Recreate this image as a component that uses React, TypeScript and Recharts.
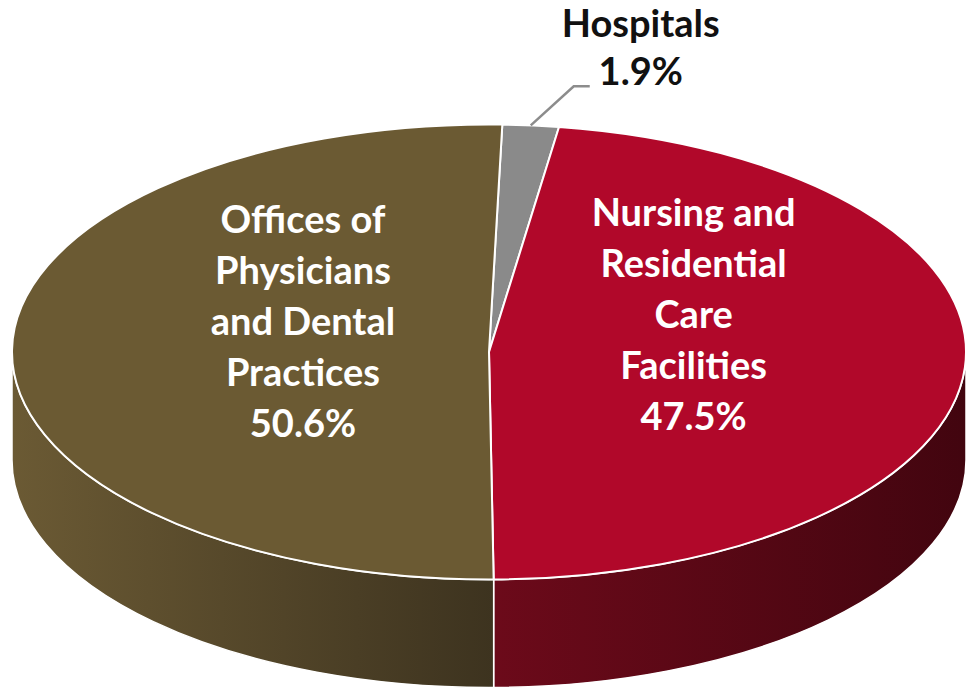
import React from 'react';
import { PieChart, Pie, Cell } from 'recharts';

// values (% share)
const categories = [
  'Hospitals',
  'Nursing and Residential Care Facilities',
  'Offices of Physicians and Dental Practices',
];
const shares = [1.9, 47.5, 50.6];
// how each category label is wrapped on the chart
const labelLines = [
  ['Hospitals'],
  ['Nursing and', 'Residential', 'Care', 'Facilities'],
  ['Offices of', 'Physicians', 'and Dental', 'Practices'],
];

const topColors = ['#8a8a8a', '#b1082a', '#6b5a33'];
const wallColors = [
  ['#6a6a6a', '#4a4a4a'],
  ['#6c0a1a', '#42050f'],
  ['#6b5a34', '#3d331f'],
];
// label placement per slice: fraction of radius, and lift
const labelRadius = [1, 0.43, 0.39];
const labelLift = [0, 31, 16];

const TILT = 0.477; // vertical squash of the pie top
const DEPTH = 108; // thickness of the pie
const RAD = Math.PI / 180;
const FONT = 'Lato, "Open Sans", sans-serif';
const FONT_SIZE = 38;

const chartData = categories.map((name, i) => ({ name, value: shares[i] }));

const pt = (cx: number, cy: number, rx: number, ry: number, a: number, dy = 0) =>
  [cx + rx * Math.cos(a * RAD), cy - ry * Math.sin(a * RAD) + dy];

const SliceShape = (props: any) => {
  const { cx, cy, outerRadius, startAngle, endAngle, fill, name } = props;
  const idx = categories.indexOf(name);
  const rx = outerRadius;
  const ry = outerRadius * TILT;
  const s = startAngle;
  const e = endAngle;
  const ps = pt(cx, cy, rx, ry, s);
  const pe = pt(cx, cy, rx, ry, e);
  const large = Math.abs(s - e) > 180 ? 1 : 0;
  const sweep = s > e ? 1 : 0;
  const top = `M${cx},${cy} L${ps[0]},${ps[1]} A${rx},${ry} 0 ${large} ${sweep} ${pe[0]},${pe[1]} Z`;

  // front (visible) part of the outer wall
  const lo = Math.min(s, e);
  const hi = Math.max(s, e);
  const walls: React.ReactNode[] = [];
  [-720, -360, 0, 360].forEach((k) => {
    const a1 = Math.max(lo, -180 + k);
    const a2 = Math.min(hi, k);
    if (a2 <= a1 + 0.01) return;
    const p1 = pt(cx, cy, rx, ry, a1);
    const p2 = pt(cx, cy, rx, ry, a2);
    const gid = `wall-${idx}-${k}`;
    const d = `M${p2[0]},${p2[1]} A${rx},${ry} 0 0 1 ${p1[0]},${p1[1]} L${p1[0]},${p1[1] + DEPTH} A${rx},${ry} 0 0 0 ${p2[0]},${p2[1] + DEPTH} Z`;
    walls.push(
      <g key={gid}>
        <defs>
          <linearGradient id={gid} gradientUnits="userSpaceOnUse"
            x1={Math.min(p1[0], p2[0])} y1={0} x2={Math.max(p1[0], p2[0])} y2={0}>
            <stop offset="0%" stopColor={wallColors[idx][0]} />
            <stop offset="100%" stopColor={wallColors[idx][1]} />
          </linearGradient>
        </defs>
        <path d={d} fill={`url(#${gid})`} stroke="#ffffff" strokeWidth={1.5} strokeLinejoin="round" />
      </g>
    );
  });

  return (
    <g>
      {walls}
      <path d={top} fill={fill} stroke="#ffffff" strokeWidth={2} strokeLinejoin="round" />
    </g>
  );
};

const renderLabel = (props: any) => {
  const { cx, cy, midAngle, outerRadius, name } = props;
  const idx = categories.indexOf(name);
  const rx = outerRadius;
  const ry = outerRadius * TILT;
  const lines = [...labelLines[idx], `${shares[idx]}%`];

  if (idx === 0) {
    // small slice: label outside with a leader line
    const [sx, sy] = pt(cx, cy, rx, ry, midAngle);
    const ex = sx + 43;
    const ey = sy - 39;
    const tx = ex + 16 + 51;
    return (
      <g key="lbl-0">
        <polyline points={`${sx},${sy} ${ex},${ey} ${ex + 16},${ey}`} fill="none" stroke="#8c8c8c" strokeWidth={2.5} />
        <text x={tx} y={ey - 49} textAnchor="middle" fontFamily={FONT} fontWeight={700} fontSize={FONT_SIZE} fill="#111111">
          {lines.map((l, i) => (
            <tspan key={i} x={tx} dy={i === 0 ? 0 : 48}>{l}</tspan>
          ))}
        </text>
      </g>
    );
  }

  const f = labelRadius[idx];
  const [lx, ly0] = pt(cx, cy, rx, ry, midAngle);
  const lx2 = cx + (lx - cx) * f;
  const ly = cy + (ly0 - cy) * f - labelLift[idx];
  const lh = 51;
  const firstY = ly - lh * 2;
  return (
    <text key={`lbl-${idx}`} x={lx2} y={firstY} textAnchor="middle" fontFamily={FONT} fontWeight={700} fontSize={FONT_SIZE} fill="#ffffff">
      {lines.map((l, i) => (
        <tspan key={i} x={lx2} dy={i === 0 ? 0 : lh}>{l}</tspan>
      ))}
    </text>
  );
};

const App: React.FC = () => {
  return (
    <div style={{ position: 'absolute', left: 0, top: 0, width: 966, height: 695, background: '#ffffff' }}>
      <PieChart width={966} height={695} margin={{ top: 0, right: 0, bottom: 0, left: 0 }}>
        <Pie
          data={chartData}
          dataKey="value"
          nameKey="name"
          cx={489}
          cy={352}
          outerRadius={477}
          startAngle={88.4}
          endAngle={-271.6}
          isAnimationActive={false}
          shape={SliceShape}
          label={renderLabel}
          labelLine={false}
        >
          {chartData.map((entry, index) => (
            <Cell key={`cell-${index}`} fill={topColors[index]} />
          ))}
        </Pie>
      </PieChart>
    </div>
  );
};

export default App;
